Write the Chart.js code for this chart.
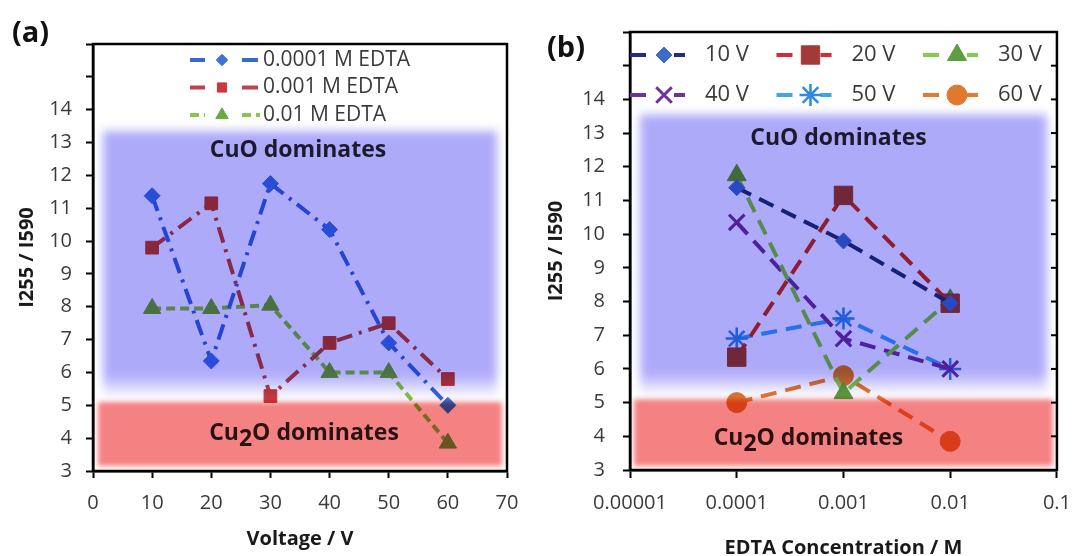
<!DOCTYPE html>
<html>
<head>
<meta charset="utf-8">
<script src="https://cdn.jsdelivr.net/npm/chart.js@4.4.1/dist/chart.umd.min.js"></script>
<style>
  html, body { margin: 0; padding: 0; background: #fff; }
  #wrap { position: relative; width: 1084px; height: 556px; overflow: hidden; background: #fff; }
  canvas { position: absolute; top: 0; }
  #chartA { left: 0; }
  #chartB { left: 540px; }
</style>
</head>
<body>
<div id="wrap">
  <canvas id="chartA" width="540" height="556"></canvas>
  <canvas id="chartB" width="544" height="556"></canvas>
</div>
<script>
// Raman intensity ratio I255/I590 of anodised copper films
const voltages   = [10, 20, 30, 40, 50, 60];          // anodising voltage, V
const edtaConcs  = [0.0001, 0.001, 0.01];              // EDTA concentration, M
const ratio0001M = [11.38, 6.35, 11.75, 10.35, 6.9, 5.0];
const ratio001M  = [9.8, 11.15, 5.28, 6.9, 7.5, 5.8];
const ratio01M   = [7.95, 7.95, 8.05, 6.0, 6.0, 3.85];
const concLabels = ['0.0001 M EDTA', '0.001 M EDTA', '0.01 M EDTA'];
const voltLabels = ['10 V', '20 V', '30 V', '40 V', '50 V', '60 V'];
const voltTicks  = [0, 10, 20, 30, 40, 50, 60, 70];
const concTicks  = [0.00001, 0.0001, 0.001, 0.01, 0.1];
const ratioMin = 3, ratioMax = 16, ratioLabelMax = 14;

const seriesByConc = [ratio0001M, ratio001M, ratio01M];

const FONT = "'Open Sans', 'DejaVu Sans', sans-serif";

// line / marker styles
const styleA = [
  { line: '#3467d8', fill: '#3c72de', pointStyle: 'rectRot', radius: 8,  dash: [16, 7, 3, 7] },
  { line: '#c43f4c', fill: '#c63a3e', pointStyle: 'rect',    radius: 9,  dash: [16, 7, 3, 7] },
  { line: '#86c64a', fill: '#6aa844', pointStyle: 'triangle', radius: 10, dash: [9, 5] }
];
const styleB = [
  { line: '#1f2f78', fill: '#3d6cc8', pointStyle: 'rectRot',  radius: 8,  bw: 1 },
  { line: '#d42a32', fill: '#a23a3a', pointStyle: 'rect',     radius: 13, bw: 1 },
  { line: '#7fcf4f', fill: '#5e9e3e', pointStyle: 'triangle', radius: 11, bw: 1 },
  { line: '#7030a0', fill: '#7030a0', pointStyle: 'crossRot', radius: 11, bw: 3 },
  { line: '#3aa6f0', fill: '#2f8ae0', pointStyle: 'star',     radius: 11, bw: 2.5 },
  { line: '#e8782e', fill: '#e0782e', pointStyle: 'circle',   radius: 10, bw: 1 }
];

// shaded oxide regions, labels, frame and custom legend
const panelDecor = {
  id: 'panelDecor',
  afterDatasetsDraw(chart, _args, o) {
    const { ctx, chartArea: a } = chart;
    const y = chart.scales.y;
    const cx = (a.left + a.right) / 2;

    ctx.save();
    ctx.beginPath();
    ctx.rect(a.left, a.top, a.right - a.left, a.bottom - a.top);
    ctx.clip();
    ctx.globalCompositeOperation = 'multiply';

    const cu = o.cuoBand;
    const t = y.getPixelForValue(cu.top);
    const f = y.getPixelForValue(cu.fadeFrom);
    const b = y.getPixelForValue(cu.bottom);
    const g = ctx.createLinearGradient(0, t, 0, b);
    g.addColorStop(0, cu.color);
    g.addColorStop((f - t) / (b - t), cu.color);
    g.addColorStop(1, '#ffffff');
    ctx.filter = `blur(${cu.blur}px)`;
    ctx.fillStyle = g;
    ctx.fillRect(a.left + cu.inset, t, a.right - a.left - 2 * cu.inset, b - t);

    const c2 = o.cu2oBand;
    const t2 = y.getPixelForValue(c2.top);
    const b2 = y.getPixelForValue(c2.bottom);
    ctx.filter = `blur(${c2.blur}px)`;
    ctx.fillStyle = c2.color;
    ctx.fillRect(a.left + c2.inset, t2, a.right - a.left - 2 * c2.inset, b2 - t2);
    ctx.restore();

    // region captions
    ctx.save();
    ctx.font = `bold ${o.regionFont}px ${FONT}`;
    ctx.textBaseline = 'middle';
    ctx.textAlign = 'center';
    ctx.fillStyle = o.cuoText.color;
    ctx.fillText('CuO dominates', cx + o.cuoText.dx, y.getPixelForValue(o.cuoText.at));

    ctx.fillStyle = o.cu2oText.color;
    ctx.textAlign = 'left';
    const parts = ['Cu', '2', 'O dominates'];
    const widths = parts.map(p => ctx.measureText(p).width);
    let x0 = cx + o.cu2oText.dx - widths.reduce((s, w) => s + w, 0) / 2;
    const yc = y.getPixelForValue(o.cu2oText.at);
    parts.forEach((p, i) => {
      ctx.fillText(p, x0, i === 1 ? yc + o.subShift : yc);
      x0 += widths[i];
    });
    ctx.restore();
  },
  afterDraw(chart, _args, o) {
    const { ctx, chartArea: a } = chart;
    const y = chart.scales.y;
    ctx.save();
    // plot frame
    ctx.strokeStyle = '#000';
    ctx.lineWidth = 2.5;
    ctx.strokeRect(a.left, a.top, a.right - a.left, a.bottom - a.top);
    if (o.rightTicks) {
      ctx.lineWidth = 2;
      y.ticks.forEach(tk => {
        const py = y.getPixelForValue(tk.value);
        ctx.beginPath();
        ctx.moveTo(a.right - o.rightTicks, py);
        ctx.lineTo(a.right, py);
        ctx.stroke();
      });
    }

    // legend
    const L = o.legend;
    chart.data.datasets.forEach((ds, i) => {
      const col = i % L.cols, row = Math.floor(i / L.cols);
      const X = L.x + col * L.colStep;
      const Y = L.y + row * L.rowStep;
      ctx.strokeStyle = ds.borderColor;
      ctx.lineWidth = ds.borderWidth;
      ctx.setLineDash(ds.borderDash || []);
      ctx.beginPath();
      ctx.moveTo(X, Y); ctx.lineTo(X + L.seg[0], Y);
      ctx.moveTo(X + L.seg[1], Y); ctx.lineTo(X + L.seg[2], Y);
      ctx.stroke();
      ctx.setLineDash([]);
      ctx.fillStyle = ds.pointBackgroundColor;
      ctx.strokeStyle = ds.pointBorderColor;
      ctx.lineWidth = ds.pointBorderWidth;
      Chart.helpers.drawPoint(ctx, {
        pointStyle: ds.pointStyle,
        radius: ds.pointRadius * L.markerScale,
        borderWidth: ds.pointBorderWidth,
        rotation: 0
      }, X + L.marker, Y);
      ctx.fillStyle = L.color;
      ctx.font = `${L.font}px ${FONT}`;
      ctx.textAlign = 'left';
      ctx.textBaseline = 'middle';
      ctx.fillText(ds.label, X + L.text, Y);
    });

    // panel tag
    ctx.fillStyle = '#111';
    ctx.font = `bold ${o.tag.font}px ${FONT}`;
    ctx.textAlign = 'left';
    ctx.textBaseline = 'middle';
    ctx.fillText(o.tag.text, o.tag.x, o.tag.y);
    ctx.restore();
  }
};

function yAxis(axisWidth, labelPad, titlePad) {
  return {
    min: ratioMin, max: ratioMax,
    ticks: {
      stepSize: 1, padding: labelPad, color: '#3a3a3a',
      font: { family: FONT, size: 20 },
      callback: v => (v <= ratioLabelMax ? String(v) : '')
    },
    grid: { drawOnChartArea: false, tickLength: 7, tickWidth: 2, tickColor: '#000' },
    border: { color: '#000', width: 2.5 },
    title: {
      display: true, text: 'I255 / I590', color: '#1a1a1a',
      font: { family: FONT, size: 20, weight: 'bold', lineHeight: 1.2 },
      padding: { top: titlePad, bottom: 0 }
    },
    afterFit: s => { s.width = axisWidth; }
  };
}

function xTicks(pad) {
  return {
    autoSkip: false, maxRotation: 0, padding: pad, color: '#3a3a3a',
    font: { family: FONT, size: 20 }
  };
}

// (a) ratio vs. voltage
new Chart(document.getElementById('chartA'), {
  type: 'line',
  data: {
    datasets: seriesByConc.map((vals, i) => ({
      label: concLabels[i],
      data: voltages.map((v, k) => ({ x: v, y: vals[k] })),
      borderColor: styleA[i].line,
      borderWidth: 4,
      borderDash: styleA[i].dash,
      pointStyle: styleA[i].pointStyle,
      pointRadius: styleA[i].radius,
      pointBackgroundColor: styleA[i].fill,
      pointBorderColor: styleA[i].fill,
      pointBorderWidth: 1,
      tension: 0, fill: false
    }))
  },
  options: {
    responsive: false, animation: false,
    layout: { padding: { left: 0, right: 33, top: 44, bottom: 0 } },
    plugins: {
      legend: { display: false }, tooltip: { enabled: false },
      panelDecor: {
        cuoBand: { top: 13.35, fadeFrom: 5.95, bottom: 5.2, inset: 10, blur: 5, color: 'rgb(174,170,250)' },
        cu2oBand: { top: 5.1, bottom: 3.15, inset: 5, blur: 2.5, color: 'rgb(245,130,130)' },
        regionFont: 23, subShift: 6,
        cuoText: { at: 12.75, dx: -2, color: '#1c1a2e' },
        cu2oText: { at: 4.15, dx: 4, color: '#2a1212' },
        rightTicks: 0,
        legend: { x: 190, y: 60, cols: 1, colStep: 0, rowStep: 27.5, seg: [15, 52, 70], marker: 32, text: 73, markerScale: 0.72, font: 21, color: '#3a3a3a' },
        tag: { text: '(a)', x: 12, y: 34, font: 29 }
      }
    },
    scales: {
      x: {
        type: 'linear', min: voltTicks[0], max: voltTicks[voltTicks.length - 1],
        afterBuildTicks: s => { s.ticks = voltTicks.map(v => ({ value: v })); },
        ticks: xTicks(13),
        grid: { drawOnChartArea: false, tickLength: 7, tickWidth: 2, tickColor: '#000' },
        border: { color: '#000', width: 2.5 },
        title: {
          display: true, text: 'Voltage / V', color: '#1a1a1a',
          font: { family: FONT, size: 20, weight: 'bold', lineHeight: 1.2 },
          padding: { top: 0, bottom: 5 }
        },
        afterFit: s => { s.height = 85; }
      },
      y: yAxis(93, 14, 15)
    }
  },
  plugins: [panelDecor]
});

// (b) ratio vs. EDTA concentration
new Chart(document.getElementById('chartB'), {
  type: 'line',
  data: {
    datasets: voltages.map((v, i) => ({
      label: voltLabels[i],
      data: edtaConcs.map((c, j) => ({ x: c, y: seriesByConc[j][i] })),
      borderColor: styleB[i].line,
      borderWidth: 4,
      borderDash: [16, 9],
      pointStyle: styleB[i].pointStyle,
      pointRadius: styleB[i].radius,
      pointBackgroundColor: styleB[i].fill,
      pointBorderColor: styleB[i].fill,
      pointBorderWidth: styleB[i].bw,
      tension: 0, fill: false
    }))
  },
  options: {
    responsive: false, animation: false,
    layout: { padding: { left: 0, right: 21, top: 32, bottom: 0 } },
    plugins: {
      legend: { display: false }, tooltip: { enabled: false },
      panelDecor: {
        cuoBand: { top: 13.55, fadeFrom: 5.9, bottom: 5.2, inset: 10, blur: 5, color: 'rgb(174,170,250)' },
        cu2oBand: { top: 5.1, bottom: 3.12, inset: 4, blur: 2.5, color: 'rgb(245,130,130)' },
        regionFont: 23, subShift: 6,
        cuoText: { at: 12.85, dx: -5, color: '#1c1a2e' },
        cu2oText: { at: 3.95, dx: -35, color: '#2a1212' },
        rightTicks: 6,
        legend: { x: 90, y: 55, cols: 3, colStep: 146.5, rowStep: 40, seg: [20, 44, 55], marker: 34, text: 75, markerScale: 1, font: 22, color: '#3a3a3a' },
        tag: { text: '(b)', x: 7, y: 49, font: 29 }
      }
    },
    scales: {
      x: {
        type: 'logarithmic', min: concTicks[0], max: concTicks[concTicks.length - 1],
        afterBuildTicks: s => { s.ticks = concTicks.map(v => ({ value: v })); },
        ticks: Object.assign(xTicks(13), { callback: v => String(v) }),
        grid: { drawOnChartArea: false, tickLength: 8, tickWidth: 2, tickColor: '#000' },
        border: { color: '#000', width: 2.5 },
        title: {
          display: true, text: 'EDTA Concentration / M', color: '#1a1a1a',
          font: { family: FONT, size: 20, weight: 'bold', lineHeight: 0.8 },
          padding: { top: 0, bottom: 0 }
        },
        afterFit: s => { s.height = 86; }
      },
      y: yAxis(90, 18, 4)
    }
  },
  plugins: [panelDecor]
});
</script>
</body>
</html>
